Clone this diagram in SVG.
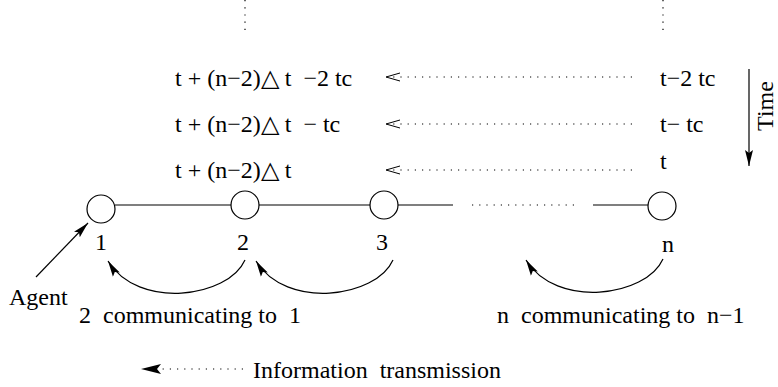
<svg xmlns="http://www.w3.org/2000/svg" width="778" height="387" viewBox="0 0 778 387">
<style>
text{font-family:"Liberation Serif","Times New Roman",serif;font-size:24px;fill:#000;white-space:pre}
.mid{text-anchor:middle}
.ln{stroke:#000;stroke-width:1.2;fill:none}
.dot{stroke:#000;stroke-width:1.2;fill:none;stroke-dasharray:1.2 6}
.nd{stroke:#000;stroke-width:1.2;fill:#fff}
.open{stroke:#000;stroke-width:1;fill:none}
</style>
<defs>
<marker id="ah" markerWidth="18" markerHeight="10" refX="16" refY="5" orient="auto" markerUnits="userSpaceOnUse">
<path d="M0,1 L16,5 L0,9 L3,5 Z" fill="#000"/>
</marker>
</defs>
<g id="timeline">
<line class="dot" x1="245" y1="0" x2="245" y2="31"/>
<line class="dot" x1="663" y1="0" x2="663" y2="31"/>
</g>
<g id="row1">
<text x="175" y="86">t + (n−2)△ t  −2 tc</text>
<text x="660" y="86">t−2 tc</text>
</g>
<g id="row2">
<text x="175" y="132">t + (n−2)△ t  − tc</text>
<text x="660" y="132">t− tc</text>
</g>
<g id="row3">
<text x="175" y="178">t + (n−2)△ t</text>
<text x="660" y="169">t</text>
</g>
<g id="time">
<line class="ln" x1="749" y1="69" x2="749" y2="166" marker-end="url(#ah)"/>
<text transform="translate(773,106) rotate(-90)" class="mid">Time</text>
</g>
<g id="node1">
<circle class="nd" cx="101" cy="209" r="14"/>
<text class="mid" x="101" y="250">1</text>
</g>
<g id="node2">
<circle class="nd" cx="245" cy="205" r="14"/>
<text class="mid" x="243" y="250">2</text>
</g>
<g id="node3">
<circle class="nd" cx="384" cy="205" r="14"/>
<text class="mid" x="382" y="250">3</text>
</g>
<g id="noden">
<circle class="nd" cx="662" cy="206" r="14"/>
<text class="mid" x="668" y="252">n</text>
</g>
<g id="agent">
<text x="9" y="305">Agent</text>
</g>
<g id="labels">
<text x="79" y="323">2  communicating to  1</text>
<text x="497" y="323">n  communicating to  n−1</text>
</g>
<g id="legend">
<text x="253" y="378">Information  transmission</text>
</g>
<g id="connectors">
<line class="ln" x1="115" y1="205" x2="231" y2="205"/>
<line class="ln" x1="259" y1="205" x2="370" y2="205"/>
<line class="ln" x1="398" y1="205" x2="453" y2="205"/>
<line class="dot" x1="472" y1="205" x2="574" y2="205"/>
<line class="ln" x1="593" y1="205" x2="648" y2="205"/>
<line class="dot" x1="632" y1="77" x2="392" y2="77"/>
<path class="open" d="M400,73 L386,77 L400,81"/>
<line class="dot" x1="632" y1="124" x2="392" y2="124"/>
<path class="open" d="M400,120 L386,124 L400,128"/>
<line class="dot" x1="632" y1="170" x2="392" y2="170"/>
<path class="open" d="M400,166 L386,170 L400,174"/>
<path class="ln" d="M245,260 C228,298 138,310 108,261" marker-end="url(#ah)"/>
<path class="ln" d="M393,260 C376,298 286,310 256,261" marker-end="url(#ah)"/>
<path class="ln" d="M663,259 C646,297 556,309 526,260" marker-end="url(#ah)"/>
<line class="ln" x1="36" y1="277" x2="88" y2="223" marker-end="url(#ah)"/>
<line class="dot" x1="243" y1="369" x2="160" y2="369"/>
<path d="M141,369 L161,364 L157,369 L161,374 Z" fill="#000"/>
</g>
</svg>
